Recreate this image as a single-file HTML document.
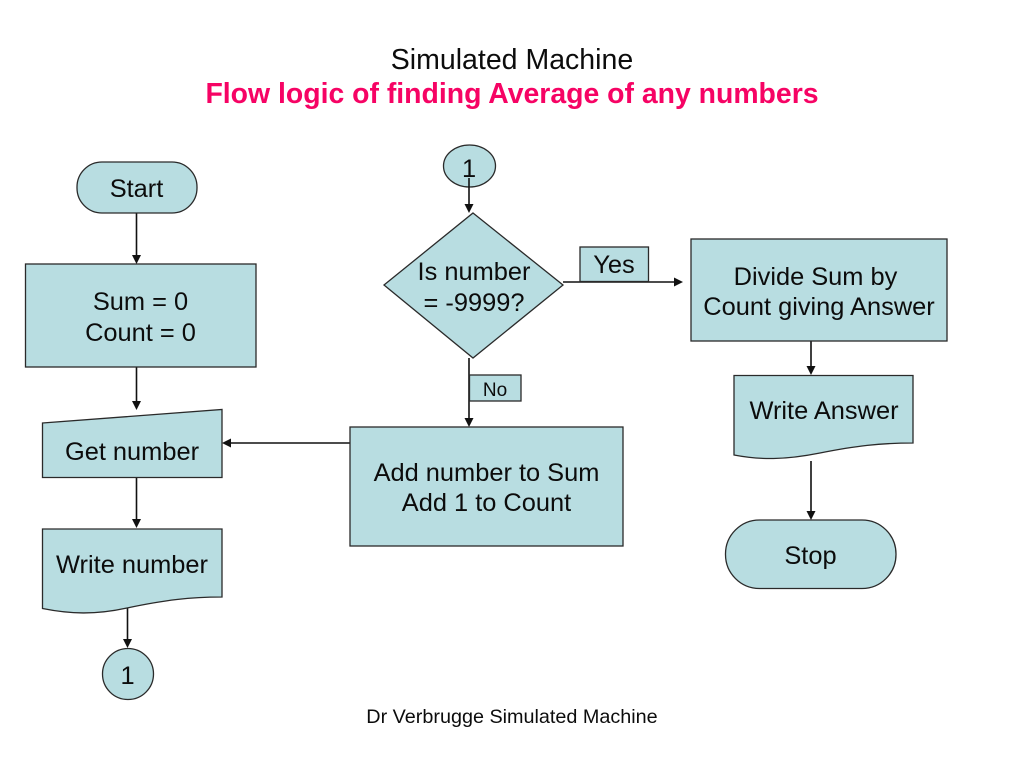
<!DOCTYPE html>
<html><head><meta charset="utf-8"><style>
html,body{margin:0;padding:0;background:#fff}
svg{display:block}
text{font-family:"Liberation Sans",Arial,sans-serif;fill:#0c0c0c;text-anchor:middle}
.s{fill:#b8dde1;stroke:#2a2a2a;stroke-width:1.3}
.l{stroke:#111;stroke-width:1.6;fill:none}
.h{fill:#111;stroke:none}
.t{font-size:25.4px}
</style></head><body>
<svg width="1024" height="768" viewBox="0 0 1024 768" xmlns="http://www.w3.org/2000/svg">
<text x="512" y="69" style="font-size:28.5px">Simulated Machine</text>
<text x="512" y="103" style="font-size:28.4px;font-weight:bold;fill:#f60364">Flow logic of finding Average of any numbers</text>

<!-- connectors -->
<path class="l" d="M136.5 213V256M136.5 367V402M136.5 477V520M127.5 606V640M469 358V419M563 282H675M350 443H230M811 341V367M811 461V512"/>
<path class="h" d="M132 255H141L136.5 264ZM132 401H141L136.5 410ZM132 519H141L136.5 528ZM123 639H132L127.5 648ZM464.5 204H473.5L469 213ZM464.5 418H473.5L469 427ZM674 277.5V286.5L683 282ZM231 438.5V447.5L222 443ZM806.5 366H815.5L811 375ZM806.5 511H815.5L811 520Z"/>

<!-- left column -->
<rect class="s" x="77" y="162" width="120" height="51" rx="25" ry="25"/>
<rect class="s" x="25.5" y="264" width="230.5" height="103"/>
<path class="s" d="M42.5 423L222 409.5V477.5H42.5Z"/>
<path class="s" d="M42.5 529H222V597C190 597 165 600 127 608C95 615 70 614 42.5 608.5Z"/>
<circle class="s" cx="128" cy="674" r="25.5"/>

<!-- middle column -->
<ellipse class="s" cx="469.5" cy="166" rx="26" ry="21"/>
<path class="l" d="M469 178V205"/>
<path class="s" d="M473 213L563 285L473 358L384 285Z"/>
<rect class="s" x="580" y="247" width="68.5" height="34.5"/>
<rect class="s" x="469.5" y="375" width="51.5" height="26"/>
<rect class="s" x="350" y="427" width="273" height="119"/>

<!-- right column -->
<rect class="s" x="691" y="239" width="256" height="102"/>
<path class="s" d="M734 375.5H913V443C880 443 855 446 820 453C785 460 760 460 734 455Z"/>
<rect class="s" x="725.5" y="520" width="170.5" height="68.5" rx="34" ry="34"/>

<!-- labels -->
<text class="t" x="136.5" y="197">Start</text>
<text class="t" x="140.5" y="310">Sum = 0</text>
<text class="t" x="140.5" y="341">Count = 0</text>
<text class="t" x="132" y="460">Get number</text>
<text class="t" x="132" y="573">Write number</text>
<text class="t" x="127.5" y="684">1</text>
<text class="t" x="469" y="177">1</text>
<text class="t" x="474" y="280">Is number</text>
<text class="t" x="474" y="311">= -9999?</text>
<text class="t" x="614" y="273">Yes</text>
<text x="495" y="396" style="font-size:19px">No</text>
<text class="t" x="486.5" y="481">Add number to Sum</text>
<text class="t" x="486.5" y="511">Add 1 to Count</text>
<text class="t" x="815.5" y="285">Divide Sum by</text>
<text class="t" x="819" y="315">Count giving Answer</text>
<text class="t" x="824" y="419">Write Answer</text>
<text class="t" x="810.5" y="564">Stop</text>
<text x="512" y="723" style="font-size:19.8px">Dr Verbrugge Simulated Machine</text>
</svg>
</body></html>
